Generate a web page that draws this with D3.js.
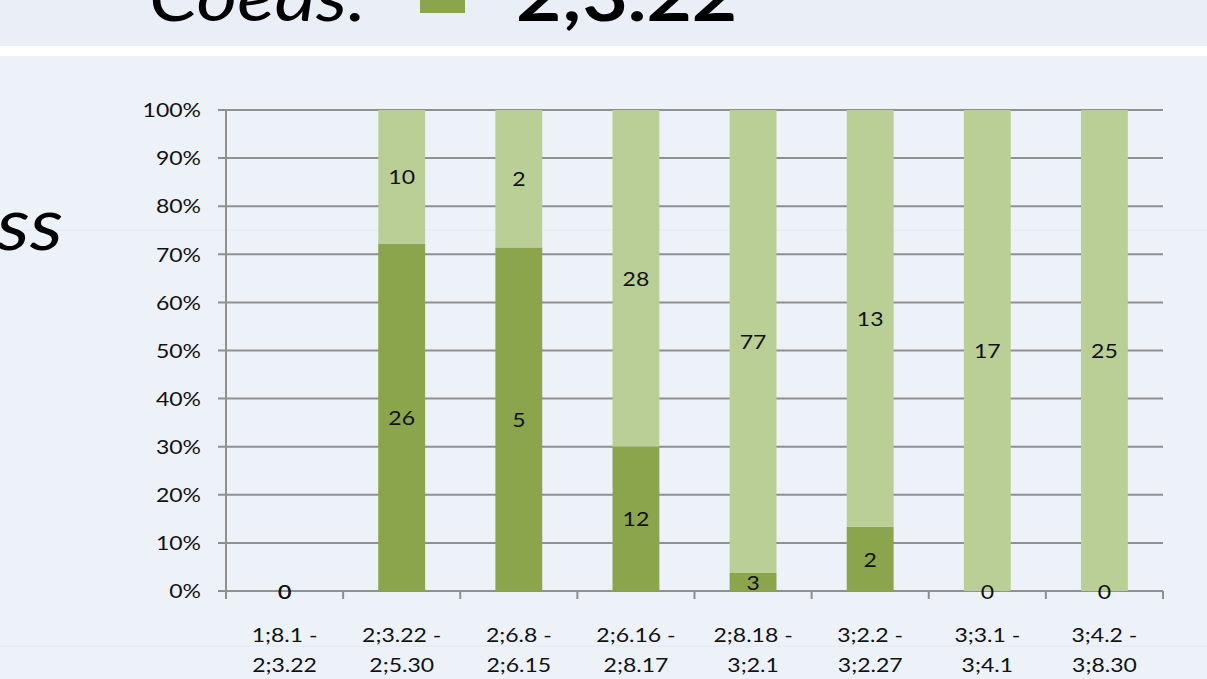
<!DOCTYPE html>
<html>
<head>
<meta charset="utf-8">
<script src="https://cdn.jsdelivr.net/npm/d3@7"></script>
<style>
  body { margin: 0; background: #edf1f8; overflow: hidden; }
  svg { display: block; font-family: Lato, "Noto Sans", sans-serif; }
</style>
</head>
<body>
<div id="container"></div>
<script>
/* DATA */
const categories = ["1;8.1 -|2;3.22", "2;3.22 -|2;5.30", "2;6.8 -|2;6.15", "2;6.16 -|2;8.17",
  "2;8.18 -|3;2.1", "3;2.2 -|3;2.27", "3;3.1 -|3;4.1", "3;4.2 -|3;8.30"];
const darkValues = [0, 26, 5, 12, 3, 2, 0, 0];
const lightValues = [0, 10, 2, 28, 77, 13, 17, 25];
const yTicks = [0, 0.1, 0.2, 0.3, 0.4, 0.5, 0.6, 0.7, 0.8, 0.9, 1];

const width = 1207, height = 679;
const margin = { top: 110, bottom: 88, left: 226, right: 44 };
const darkColor = "#8aa54c", lightColor = "#b9cf96", gridColor = "#8f8f8f";
const stretch = 1.15; // the slide is a bit wider than tall, so text gets stretched

const rows = categories.map((c, i) => ({ cat: c, dark: darkValues[i], light: lightValues[i] }));
const series = d3.stack().keys(["dark", "light"]).offset(d3.stackOffsetExpand)(rows);

const svg = d3.select("#container").append("svg")
  .attr("width", width).attr("height", height);

// slide background pieces
svg.append("rect").attr("x", 0).attr("y", 0).attr("width", width).attr("height", 46).attr("fill", "#eaeef6");
svg.append("rect").attr("x", 0).attr("y", 46).attr("width", width).attr("height", 10).attr("fill", "#ffffff");
svg.append("line").attr("x1", 0).attr("x2", width).attr("y1", 230).attr("y2", 230).attr("stroke", "#e4e9f2");
svg.append("line").attr("x1", 0).attr("x2", width).attr("y1", 646).attr("y2", 646).attr("stroke", "#e4e9f2");

// helper: stretched text at x,y
function place(sel, fx, fy) {
  return sel.attr("transform", (d, i) => `translate(${fx(d, i)},${fy(d, i)}) scale(${stretch},1)`);
}

// title (cut off at top)
svg.append("text").attr("transform", `translate(149,21) scale(${stretch},1)`)
  .attr("font-size", 68).attr("font-style", "italic").text("Coeds:");
svg.append("text").attr("transform", `translate(516,21) scale(${stretch},1)`)
  .attr("font-size", 68).attr("font-weight", "bold").text("2;3.22");
svg.append("rect").attr("x", 420).attr("y", 0).attr("width", 45).attr("height", 13).attr("fill", darkColor);

svg.append("text").attr("transform", `translate(63,250) scale(${stretch},1)`).attr("text-anchor", "end")
  .attr("font-size", 72).attr("font-style", "italic").text("ess");

// SCALES
const xScale = d3.scaleBand().domain(categories)
  .range([margin.left, width - margin.right]).paddingInner(0.6).paddingOuter(0.3);
const yScale = d3.scaleLinear().domain([0, 1]).range([height - margin.bottom, margin.top]);

// gridlines
svg.append("g").selectAll("line").data(yTicks).join("line")
  .attr("x1", margin.left - 8).attr("x2", width - margin.right)
  .attr("y1", d => yScale(d)).attr("y2", d => yScale(d))
  .attr("stroke", gridColor).attr("stroke-width", 2);

// y labels
place(svg.append("g").selectAll("text").data(yTicks).join("text"), () => 201, d => yScale(d))
  .attr("dy", "0.36em")
  .attr("text-anchor", "end").attr("font-size", 20).attr("fill", "#111")
  .text(d3.format(".0%"));

// bars
svg.append("g").selectAll("g").data(series).join("g")
  .attr("fill", d => d.key === "dark" ? darkColor : lightColor)
  .selectAll("rect").data(d => d).join("rect")
  .attr("x", d => xScale(d.data.cat))
  .attr("width", xScale.bandwidth())
  .attr("y", d => yScale(d[1]))
  .attr("height", d => yScale(d[0]) - yScale(d[1]));

// axes lines
svg.append("line").attr("x1", margin.left).attr("x2", margin.left)
  .attr("y1", margin.top).attr("y2", yScale(0) + 8)
  .attr("stroke", gridColor).attr("stroke-width", 2);
const step = xScale.step();
const tickXs = d3.range(categories.length + 1).map(i => margin.left + i * step);
svg.append("g").selectAll("line").data(tickXs).join("line")
  .attr("x1", d => d).attr("x2", d => d)
  .attr("y1", yScale(0)).attr("y2", yScale(0) + 8)
  .attr("stroke", gridColor).attr("stroke-width", 2);

// value labels
const labels = [];
series.forEach(s => s.forEach(d => {
  labels.push({ cat: d.data.cat, v: d.data[s.key], y: (yScale(d[0]) + yScale(d[1])) / 2 });
}));
place(svg.append("g").selectAll("text").data(labels).join("text"),
  d => xScale(d.cat) + xScale.bandwidth() / 2, d => d.y)
  .attr("dy", "0.38em")
  .attr("text-anchor", "middle").attr("font-size", 20).attr("fill", "#111")
  .text(d => d.v);

// x labels
const xg = svg.append("g");
[0, 1].forEach(line => {
  place(xg.selectAll("text.l" + line).data(categories).join("text").attr("class", "l" + line),
    d => xScale(d) + xScale.bandwidth() / 2, () => line ? 672 : 642)
    .attr("text-anchor", "middle").attr("font-size", 20).attr("fill", "#111")
    .text(d => d.split("|")[line]);
});
</script>
</body>
</html>
